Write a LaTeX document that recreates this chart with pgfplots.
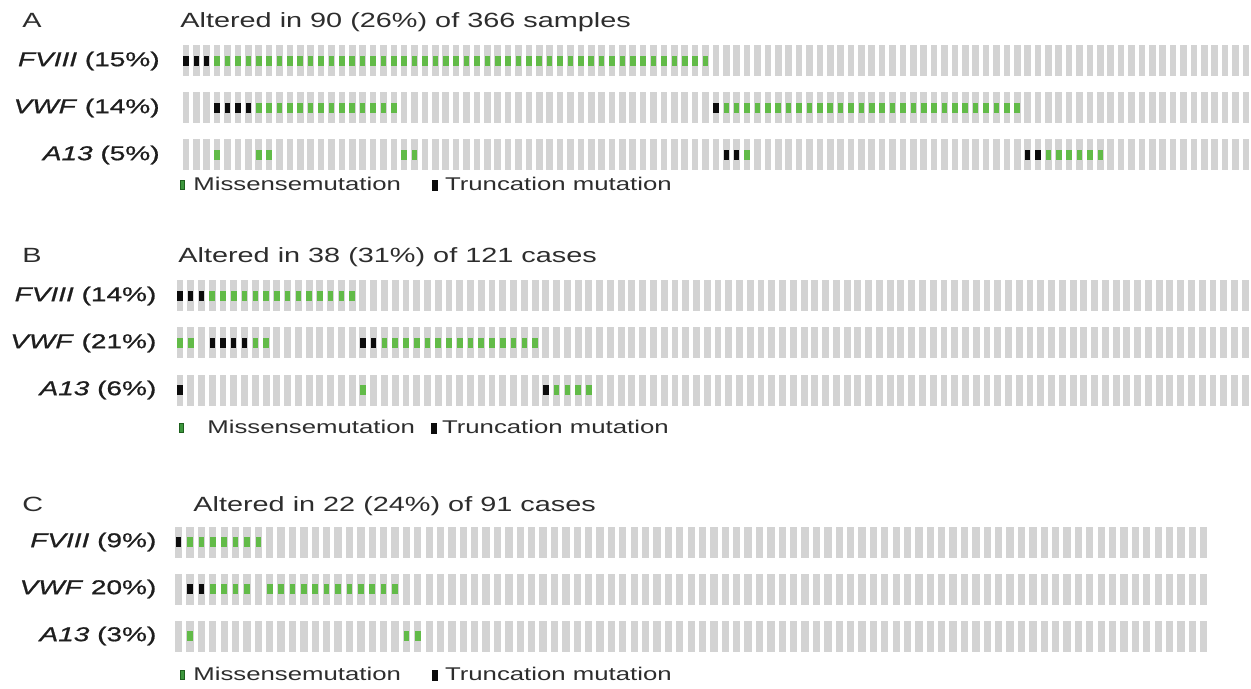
\documentclass[border=0pt]{standalone}
\usepackage{pgfplots}
\pgfplotsset{compat=1.18}
\usepackage{pgfplotstable}
\usepackage{fontspec}
\setmainfont{Liberation Sans}[FakeStretch=1.4]
\newfontfamily\labfam{Liberation Sans}[FakeStretch=1.4, FakeBold=0.9]
\definecolor{cellgray}{RGB}{211,211,211}
\definecolor{mgreen}{RGB}{98,187,72}
\definecolor{lgreen}{RGB}{60,150,60}
\definecolor{lgreend}{RGB}{30,95,30}
\definecolor{tblack}{RGB}{12,12,12}
\definecolor{labtxt}{RGB}{30,30,30}
\definecolor{txt}{RGB}{45,45,45}
\newcommand\labfont{\labfam\fontsize{10}{12}\selectfont}
\newcommand\titfont{\fontsize{10.3}{12}\selectfont}
\newcommand\legfont{\fontsize{9.2}{11}\selectfont}
\pgfdeclareplotmark{grayA}{\pgfpathrectangle{\pgfpoint{-1.65pt}{-7.75pt}}{\pgfpoint{3.3pt}{15.5pt}}\pgfusepathqfill}
\pgfdeclareplotmark{grayB}{\pgfpathrectangle{\pgfpoint{-1.72pt}{-7.75pt}}{\pgfpoint{3.45pt}{15.5pt}}\pgfusepathqfill}
\pgfdeclareplotmark{grayC}{\pgfpathrectangle{\pgfpoint{-1.82pt}{-7.75pt}}{\pgfpoint{3.65pt}{15.5pt}}\pgfusepathqfill}
\pgfdeclareplotmark{gcell}{\pgfpathrectangle{\pgfpoint{-1.4pt}{-2.6pt}}{\pgfpoint{2.8pt}{5.2pt}}\pgfusepathqfill}
\pgfdeclareplotmark{bcell}{\pgfpathrectangle{\pgfpoint{-1.35pt}{-2.7pt}}{\pgfpoint{2.7pt}{5.4pt}}\pgfusepathqfill}
\pgfplotstableread[row sep=\\]{
x a b c\\
0 0 -1 -2\\ 1 0 -1 -2\\ 2 0 -1 -2\\ 3 0 -1 -2\\ 4 0 -1 -2\\ 5 0 -1 -2\\ 6 0 -1 -2\\ 7 0 -1 -2\\ 8 0 -1 -2\\ 9 0 -1 -2\\
10 0 -1 -2\\ 11 0 -1 -2\\ 12 0 -1 -2\\ 13 0 -1 -2\\ 14 0 -1 -2\\ 15 0 -1 -2\\ 16 0 -1 -2\\ 17 0 -1 -2\\ 18 0 -1 -2\\ 19 0 -1 -2\\
20 0 -1 -2\\ 21 0 -1 -2\\ 22 0 -1 -2\\ 23 0 -1 -2\\ 24 0 -1 -2\\ 25 0 -1 -2\\ 26 0 -1 -2\\ 27 0 -1 -2\\ 28 0 -1 -2\\ 29 0 -1 -2\\
30 0 -1 -2\\ 31 0 -1 -2\\ 32 0 -1 -2\\ 33 0 -1 -2\\ 34 0 -1 -2\\ 35 0 -1 -2\\ 36 0 -1 -2\\ 37 0 -1 -2\\ 38 0 -1 -2\\ 39 0 -1 -2\\
40 0 -1 -2\\ 41 0 -1 -2\\ 42 0 -1 -2\\ 43 0 -1 -2\\ 44 0 -1 -2\\ 45 0 -1 -2\\ 46 0 -1 -2\\ 47 0 -1 -2\\ 48 0 -1 -2\\ 49 0 -1 -2\\
50 0 -1 -2\\ 51 0 -1 -2\\ 52 0 -1 -2\\ 53 0 -1 -2\\ 54 0 -1 -2\\ 55 0 -1 -2\\ 56 0 -1 -2\\ 57 0 -1 -2\\ 58 0 -1 -2\\ 59 0 -1 -2\\
60 0 -1 -2\\ 61 0 -1 -2\\ 62 0 -1 -2\\ 63 0 -1 -2\\ 64 0 -1 -2\\ 65 0 -1 -2\\ 66 0 -1 -2\\ 67 0 -1 -2\\ 68 0 -1 -2\\ 69 0 -1 -2\\
70 0 -1 -2\\ 71 0 -1 -2\\ 72 0 -1 -2\\ 73 0 -1 -2\\ 74 0 -1 -2\\ 75 0 -1 -2\\ 76 0 -1 -2\\ 77 0 -1 -2\\ 78 0 -1 -2\\ 79 0 -1 -2\\
80 0 -1 -2\\ 81 0 -1 -2\\ 82 0 -1 -2\\ 83 0 -1 -2\\ 84 0 -1 -2\\ 85 0 -1 -2\\ 86 0 -1 -2\\ 87 0 -1 -2\\ 88 0 -1 -2\\ 89 0 -1 -2\\
90 0 -1 -2\\ 91 0 -1 -2\\ 92 0 -1 -2\\ 93 0 -1 -2\\ 94 0 -1 -2\\ 95 0 -1 -2\\ 96 0 -1 -2\\ 97 0 -1 -2\\ 98 0 -1 -2\\ 99 0 -1 -2\\
100 0 -1 -2\\ 101 0 -1 -2\\ 102 0 -1 -2\\
}\graytab
\pgfplotsset{oncoprint/.style={
  scale only axis, clip=false,
  axis line style={draw=none},
  xtick=\empty, ytick={-2,-1,0},
  major tick length=0pt, tick style={draw=none},
  xmin=-0.5, ymin=-2.5, ymax=0.5,
  height=70.5pt, anchor=north west,
  yticklabel style={anchor=east, inner sep=0pt, font=\labfont, text=labtxt},
  legend columns=2,
  legend style={draw=none, fill=none, inner sep=0pt, anchor=west, at={(0,0)},
    font=\legfont, text=txt, nodes={inner sep=0pt, anchor=west}, column sep=0pt},
}}
\begin{document}
\begin{tikzpicture}
\path[use as bounding box] (0,0) rectangle (625.5pt,-344.5pt);
% ---------------- Panel A
\begin{axis}[oncoprint, at={(90.4pt,-18.75pt)}, width=535.1pt, xmax=102.5,
  yticklabels={\textit{A13} (5\%),\textit{VWF} (14\%),\textit{FVIII} (15\%)},
  yticklabel style={xshift=-10.4pt},
  legend style={xshift=-0.65pt, yshift=-3.25pt}]
\addplot[only marks, mark=grayA, color=cellgray, forget plot] table[x=x, y=a]{\graytab};
\addplot[only marks, mark=grayA, color=cellgray, forget plot] table[x=x, y=b]{\graytab};
\addplot[only marks, mark=grayA, color=cellgray, forget plot] table[x=x, y=c]{\graytab};
\addplot[only marks, mark=gcell, color=mgreen,
  legend image code/.code={\path[draw=none, fill=none] (0,0) -- (6.75pt,0); \filldraw[fill=lgreen, draw=lgreend, line width=0.4pt] (0.2pt,-2.1pt) rectangle (2.3pt,2.1pt);}]
coordinates {
(3,0)(4,0)(5,0)(6,0)(7,0)(8,0)(9,0)(10,0)(11,0)(12,0)(13,0)(14,0)(15,0)(16,0)(17,0)(18,0)(19,0)(20,0)
(21,0)(22,0)(23,0)(24,0)(25,0)(26,0)(27,0)(28,0)(29,0)(30,0)(31,0)(32,0)(33,0)(34,0)(35,0)(36,0)(37,0)
(38,0)(39,0)(40,0)(41,0)(42,0)(43,0)(44,0)(45,0)(46,0)(47,0)(48,0)(49,0)(50,0)
(7,-1)(8,-1)(9,-1)(10,-1)(11,-1)(12,-1)(13,-1)(14,-1)(15,-1)(16,-1)(17,-1)(18,-1)(19,-1)(20,-1)
(52,-1)(53,-1)(54,-1)(55,-1)(56,-1)(57,-1)(58,-1)(59,-1)(60,-1)(61,-1)(62,-1)(63,-1)(64,-1)(65,-1)(66,-1)
(67,-1)(68,-1)(69,-1)(70,-1)(71,-1)(72,-1)(73,-1)(74,-1)(75,-1)(76,-1)(77,-1)(78,-1)(79,-1)(80,-1)
(3,-2)(7,-2)(8,-2)(21,-2)(22,-2)(54,-2)(83,-2)(84,-2)(85,-2)(86,-2)(87,-2)(88,-2)
};
\addlegendentry{Missensemutation}
\addplot[only marks, mark=bcell, color=tblack,
  legend image code/.code={\path[draw=none, fill=none] (0,0) -- (22pt,0); \fill[tblack] (15.75pt,-2.5pt) rectangle (18.25pt,2.5pt);}]
coordinates {
(0,0)(1,0)(2,0)(3,-1)(4,-1)(5,-1)(6,-1)(51,-1)(52,-2)(53,-2)(81,-2)(82,-2)
};
\addlegendentry{Truncation mutation}
\node[anchor=base west, font=\titfont, text=txt, inner sep=0pt, xshift=-0.4pt, yshift=5.05pt] at (rel axis cs:0,1) {Altered in 90 (26\%) of 366 samples};
\node[anchor=base west, font=\titfont, text=txt, inner sep=0pt, xshift=-79.4pt, yshift=5.05pt] at (rel axis cs:0,1) {A};
\end{axis}
% ---------------- Panel B
\begin{axis}[oncoprint, at={(87.3pt,-136.25pt)}, width=538pt, xmax=99.5,
  yticklabels={\textit{A13} (6\%),\textit{VWF} (21\%),\textit{FVIII} (14\%)},
  yticklabel style={xshift=-8.95pt},
  legend style={xshift=1.95pt, yshift=-7.25pt}]
\addplot[only marks, mark=grayB, color=cellgray, forget plot, restrict x to domain=0:99] table[x=x, y=a]{\graytab};
\addplot[only marks, mark=grayB, color=cellgray, forget plot, restrict x to domain=0:99] table[x=x, y=b]{\graytab};
\addplot[only marks, mark=grayB, color=cellgray, forget plot, restrict x to domain=0:99] table[x=x, y=c]{\graytab};
\addplot[only marks, mark=gcell, color=mgreen,
  legend image code/.code={\path[draw=none, fill=none] (0,0) -- (14.25pt,0); \filldraw[fill=lgreen, draw=lgreend, line width=0.4pt] (0.2pt,-2.1pt) rectangle (2.3pt,2.1pt);}]
coordinates {
(3,0)(4,0)(5,0)(6,0)(7,0)(8,0)(9,0)(10,0)(11,0)(12,0)(13,0)(14,0)(15,0)(16,0)
(0,-1)(1,-1)(7,-1)(8,-1)(19,-1)(20,-1)(21,-1)(22,-1)(23,-1)(24,-1)(25,-1)(26,-1)(27,-1)(28,-1)
(29,-1)(30,-1)(31,-1)(32,-1)(33,-1)
(17,-2)(35,-2)(36,-2)(37,-2)(38,-2)
};
\addlegendentry{Missensemutation}
\addplot[only marks, mark=bcell, color=tblack,
  legend image code/.code={\path[draw=none, fill=none] (0,0) -- (13.5pt,0); \fill[tblack] (8.25pt,-2.5pt) rectangle (10.75pt,2.5pt);}]
coordinates {
(0,0)(1,0)(2,0)(3,-1)(4,-1)(5,-1)(6,-1)(17,-1)(18,-1)(0,-2)(34,-2)
};
\addlegendentry{Truncation mutation}
\node[anchor=base west, font=\titfont, text=txt, inner sep=0pt, xshift=1.7pt, yshift=5.05pt] at (rel axis cs:0,1) {Altered in 38 (31\%) of 121 cases};
\node[anchor=base west, font=\titfont, text=txt, inner sep=0pt, xshift=-76.3pt, yshift=5.05pt] at (rel axis cs:0,1) {B};
\end{axis}
% ---------------- Panel C
\begin{axis}[oncoprint, at={(86.45pt,-259.25pt)}, width=518.25pt, xmax=90.5,
  yticklabels={\textit{A13} (3\%),\textit{VWF} 20\%),\textit{FVIII} (9\%)},
  yticklabel style={xshift=-8.1pt},
  legend style={xshift=3.3pt, yshift=-7.75pt}]
\addplot[only marks, mark=grayC, color=cellgray, forget plot, restrict x to domain=0:90] table[x=x, y=a]{\graytab};
\addplot[only marks, mark=grayC, color=cellgray, forget plot, restrict x to domain=0:90] table[x=x, y=b]{\graytab};
\addplot[only marks, mark=grayC, color=cellgray, forget plot, restrict x to domain=0:90] table[x=x, y=c]{\graytab};
\addplot[only marks, mark=gcell, color=mgreen,
  legend image code/.code={\path[draw=none, fill=none] (0,0) -- (6.75pt,0); \filldraw[fill=lgreen, draw=lgreend, line width=0.4pt] (0.2pt,-2.1pt) rectangle (2.3pt,2.1pt);}]
coordinates {
(1,0)(2,0)(3,0)(4,0)(5,0)(6,0)(7,0)
(3,-1)(4,-1)(5,-1)(6,-1)(8,-1)(9,-1)(10,-1)(11,-1)(12,-1)(13,-1)(14,-1)(15,-1)(16,-1)(17,-1)(18,-1)(19,-1)
(1,-2)(20,-2)(21,-2)
};
\addlegendentry{Missensemutation}
\addplot[only marks, mark=bcell, color=tblack,
  legend image code/.code={\path[draw=none, fill=none] (0,0) -- (22pt,0); \fill[tblack] (15.75pt,-2.5pt) rectangle (18.25pt,2.5pt);}]
coordinates {
(0,0)(1,-1)(2,-1)
};
\addlegendentry{Truncation mutation}
\node[anchor=base west, font=\titfont, text=txt, inner sep=0pt, xshift=10.05pt, yshift=3.55pt] at (rel axis cs:0,1) {Altered in 22 (24\%) of 91 cases};
\node[anchor=base west, font=\titfont, text=txt, inner sep=0pt, xshift=-75.45pt, yshift=3.55pt] at (rel axis cs:0,1) {C};
\end{axis}
\end{tikzpicture}
\end{document}
